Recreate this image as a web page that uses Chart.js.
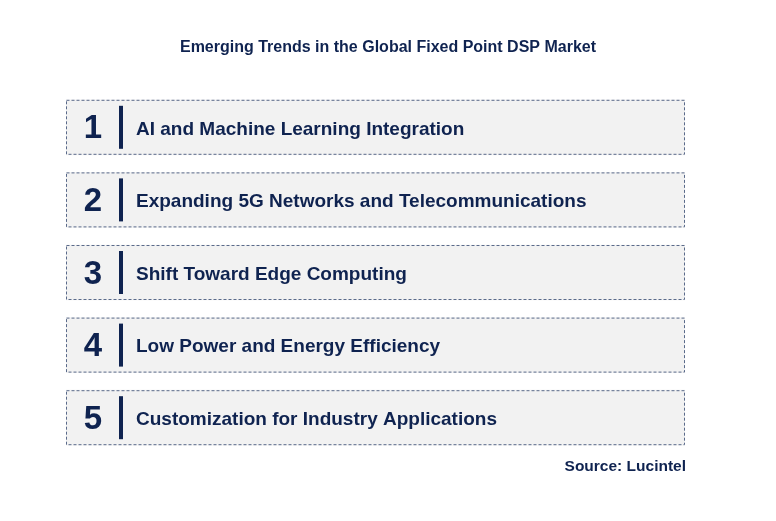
<!DOCTYPE html>
<html><head><meta charset="utf-8">
<script src="https://cdn.jsdelivr.net/npm/chart.js@4/dist/chart.umd.min.js"></script>
<style>html,body{margin:0;padding:0;background:#fff}#w{width:776px;height:521px}</style>
</head><body><div id="w"><canvas id="c"></canvas></div>
<script>
const title = "Emerging Trends in the Global Fixed Point DSP Market";
const source = "Source: Lucintel";
const numbers = ["1","2","3","4","5"];
const trends = [
  "AI and Machine Learning Integration",
  "Expanding 5G Networks and Telecommunications",
  "Shift Toward Edge Computing",
  "Low Power and Energy Efficiency",
  "Customization for Industry Applications"
];
const spans = [[0,1],[0,1],[0,1],[0,1],[0,1]];
const navy = "#0f2350";
const deco = {
  id:"deco",
  afterDatasetsDraw(chart){
    const ctx = chart.ctx, meta = chart.getDatasetMeta(0);
    ctx.save();
    meta.data.forEach((b,i)=>{
      const l=b.base, r=b.x, t=b.y-b.height/2, btm=b.y+b.height/2;
      ctx.setLineDash([3,2]); ctx.lineWidth=1; ctx.strokeStyle="#5a6a8a";
      ctx.strokeRect(l+0.5,t+0.5,r-l-1,btm-t-1);
      ctx.setLineDash([]);
      ctx.fillStyle=navy; ctx.textBaseline="middle";
      ctx.font="bold 33px Arial, 'Liberation Sans'"; ctx.textAlign="center";
      ctx.fillText(numbers[i], l+27, b.y+2);
      ctx.fillRect(l+53, t+6, 4, btm-t-12);
      ctx.font="bold 19px Arial, 'Liberation Sans'"; ctx.textAlign="left";
      ctx.fillText(trends[i], l+70, b.y+2);
    });
    ctx.font="bold 16px Arial, 'Liberation Sans'"; ctx.textAlign="center"; ctx.textBaseline="middle";
    ctx.fillText(title, 388, 48);
    ctx.textAlign="right"; ctx.font="bold 15.5px Arial, 'Liberation Sans'";
    ctx.fillText(source, 686, 467);
    ctx.restore();
  }
};
new Chart(document.getElementById("c"),{
  type:"bar",
  data:{labels:trends,datasets:[{data:spans,backgroundColor:"#f2f2f2",borderWidth:0,barThickness:55}]},
  options:{indexAxis:"y",responsive:true,maintainAspectRatio:false,animation:false,
    layout:{padding:{left:66,right:91,top:91,bottom:67}},
    plugins:{legend:{display:false},tooltip:{enabled:false},title:{display:false}},
    scales:{x:{display:false,min:0,max:1},y:{display:false}}},
  plugins:[deco]
});
</script></body></html>
